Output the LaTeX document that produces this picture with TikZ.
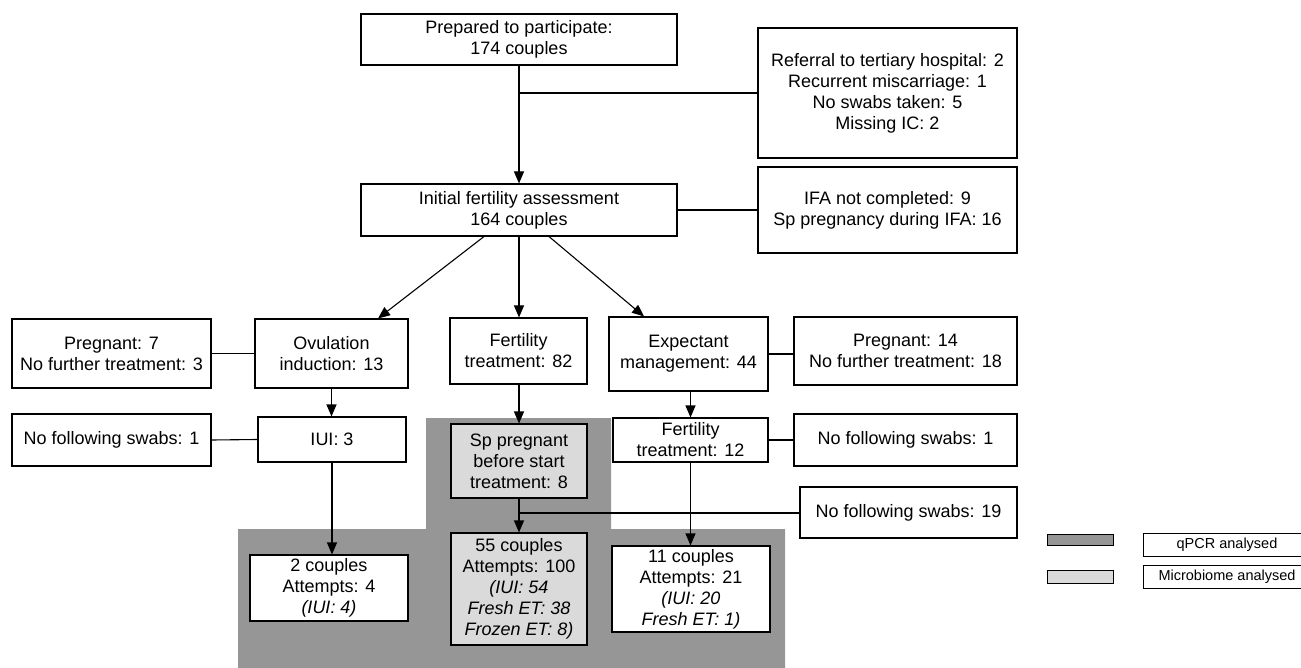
\documentclass[tikz,border=0pt]{standalone}
\usepackage{fontspec}
\setmainfont{Liberation Sans}
\usetikzlibrary{arrows.meta}
\definecolor{regiongray}{RGB}{150,150,150}
\definecolor{boxgray}{RGB}{218,218,218}
\begin{document}
\begin{tikzpicture}[x=1pt,y=-1pt,
  box/.style={draw=black,line width=1.1pt,fill=white,inner sep=0pt,align=center,
    font=\fontsize{18}{21}\selectfont},
  graybox/.style={box,fill=boxgray},
  legtext/.style={draw=black,line width=1pt,fill=white,inner sep=0pt,align=center,
    font=\fontsize{14.5}{17}\selectfont},
  conn/.style={line width=1.1pt},
  arr/.style={line width=1.1pt,-{Triangle[length=12pt,width=10pt]}}]
\useasboundingbox (0,0) rectangle (1301,668);
% shaded region
\fill[regiongray] (426,418) -- (611,418) -- (611,529) -- (785,529) -- (785,668)
  -- (238,668) -- (238,529) -- (426,529) -- cycle;
% nodes
\node[box,minimum width=316pt,minimum height=51pt] (top) at (519,39.5) {Prepared to participate:\\174 couples};
\node[box,minimum width=259pt,minimum height=130pt] (excl) at (887.5,93) {Referral to tertiary hospital: 2\\Recurrent miscarriage: 1\\No swabs taken: 5\\Missing IC: 2};
\node[box,minimum width=316pt,minimum height=52pt] (init) at (519,210) {Initial fertility assessment\\164 couples};
\node[box,minimum width=259pt,minimum height=86pt] (ifa) at (887.5,210) {IFA not completed: 9\\Sp pregnancy during IFA: 16};
\node[box,minimum width=199pt,minimum height=69pt] (preg7) at (111.5,353.5) {Pregnant: 7\\No further treatment: 3};
\node[box,minimum width=153pt,minimum height=69pt] (ovu) at (331.5,353.5) {Ovulation\\induction: 13};
\node[box,minimum width=137pt,minimum height=66pt] (fert82) at (518.5,351) {Fertility\\treatment: 82};
\node[box,minimum width=159pt,minimum height=74pt] (expect) at (688.5,354) {Expectant\\management: 44};
\node[box,minimum width=223pt,minimum height=68pt] (preg14) at (905.5,351) {Pregnant: 14\\No further treatment: 18};
\node[box,minimum width=199pt,minimum height=52pt] (nfsL) at (111.5,440) {No following swabs: 1};
\node[box,minimum width=148pt,minimum height=45pt] (iui3) at (332,439.5) {IUI: 3};
\node[graybox,minimum width=136pt,minimum height=74pt] (sppreg) at (519,461) {Sp pregnant\\before start\\treatment: 8};
\node[box,minimum width=155pt,minimum height=44pt] (fert12) at (690.5,440) {Fertility\\treatment: 12};
\node[box,minimum width=223pt,minimum height=52pt] (nfsR) at (905.5,440) {No following swabs: 1};
\node[box,minimum width=217pt,minimum height=51pt] (nfs19) at (908.5,512.5) {No following swabs: 19};
\node[box,minimum width=158pt,minimum height=66pt] (c2) at (329,588) {2 couples\\Attempts: 4\\\textit{(IUI: 4)}};
\node[graybox,minimum width=136pt,minimum height=112pt] (c55) at (519,589) {55 couples\\Attempts: 100\\\textit{(IUI: 54}\\\textit{Fresh ET: 38}\\\textit{Frozen ET: 8)}};
\node[box,minimum width=158pt,minimum height=86pt] (c11) at (691,589) {11 couples\\Attempts: 21\\\textit{(IUI: 20}\\\textit{Fresh ET: 1)}};
% legend
\node[draw=black,line width=1pt,fill=regiongray,minimum width=66pt,minimum height=11pt,inner sep=0pt] (legdark) at (1080,540) {};
\node[draw=black,line width=1pt,fill=boxgray,minimum width=66pt,minimum height=13pt,inner sep=0pt] (leglight) at (1080,576.5) {};
\node[legtext,minimum width=168pt,minimum height=23pt] (legq) at (1227,544.5) {qPCR analysed};
\node[legtext,minimum width=168pt,minimum height=23pt] (legm) at (1227,576.5) {Microbiome analysed};
% connectors
\coordinate (j1) at (519,93);
\coordinate (j2) at (519,513);
\draw[arr] (top.south) -- (init.north);
\draw[conn] (j1) -- (excl.west |- j1);
\draw[conn] (init.east) -- (ifa.west);
\draw[arr] ([xshift=-35pt]init.south) -- ([xshift=46.5pt]ovu.north);
\draw[arr] (init.south) -- (init.south |- fert82.north);
\draw[arr] ([xshift=30pt]init.south) -- ([xshift=-44.5pt]expect.north);
\draw[conn] (preg7.east) -- (ovu.west);
\draw[arr] (ovu.south) -- (ovu.south |- iui3.north);
\draw[conn] (nfsL.east) -- (iui3.west);
\draw[arr] (iui3.south) -- (iui3.south |- c2.north);
\draw[arr] (fert82.south -| sppreg.north) -- (sppreg.north);
\draw[arr] (sppreg.south) -- (c55.north);
\draw[conn] (j2) -- (nfs19.west |- j2);
\draw[conn] (expect.east) -- (expect.east -| preg14.west);
\draw[arr] (fert12.north |- expect.south) -- (fert12.north);
\draw[conn] (fert12.east) -- (fert12.east -| nfsR.west);
\draw[arr] (fert12.south) -- (fert12.south |- c11.north);
\end{tikzpicture}
\end{document}
